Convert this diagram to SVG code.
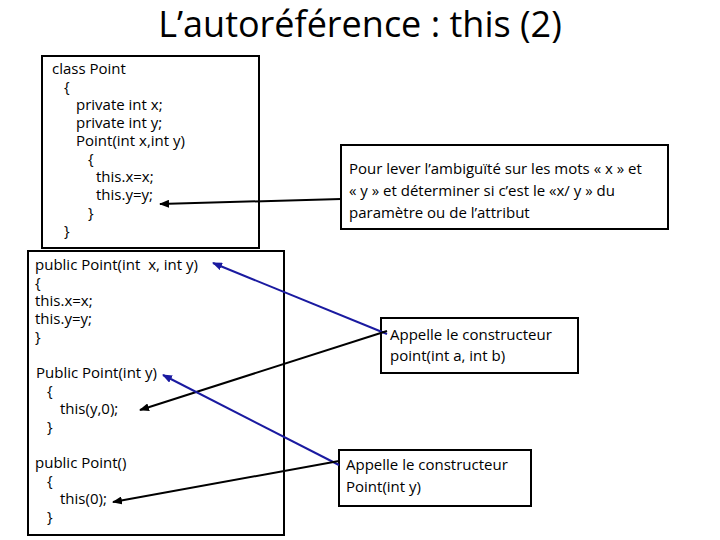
<svg xmlns="http://www.w3.org/2000/svg" width="720" height="540" viewBox="0 0 720 540">
<style>
text{font-family:"Open Sans","Liberation Sans",sans-serif;font-size:15px;fill:#000;white-space:pre}
.t{font-size:36px;font-family:"Open Sans","Liberation Sans",sans-serif}
rect{fill:#fff;stroke:#000;stroke-width:2}
.k{stroke:#000;stroke-width:2;fill:none;marker-end:url(#mk)}
.b{stroke:#1a1aa0;stroke-width:2;fill:none;marker-end:url(#mb)}
</style>
<defs>
<marker id="mk" markerWidth="10" markerHeight="8" refX="9" refY="4" orient="auto" markerUnits="userSpaceOnUse"><path d="M0,0L10,4L0,8z" fill="#000"/></marker>
<marker id="mb" markerWidth="10" markerHeight="8" refX="9" refY="4" orient="auto" markerUnits="userSpaceOnUse"><path d="M0,0L10,4L0,8z" fill="#1a1aa0"/></marker>
</defs>
<text class="t" x="360" y="37" text-anchor="middle">L’autoréférence : this (2)</text>
<g id="classbox"><rect x="42" y="56" width="217" height="192"/>
<text x="52" y="74">class Point</text><text x="64" y="92">{</text>
<text x="76" y="110">private int x;</text><text x="76" y="128">private int y;</text>
<text x="76" y="146">Point(int x,int y)</text><text x="88" y="164">{</text>
<text x="96" y="182">this.x=x;</text><text x="96" y="200">this.y=y;</text>
<text x="88" y="218">}</text><text x="64" y="236">}</text></g>
<g id="ctorbox"><rect x="28" y="251" width="256" height="284"/>
<text x="35" y="270">public Point(int  x, int y)</text><text x="35" y="288">{</text>
<text x="35" y="306">this.x=x;</text><text x="35" y="324">this.y=y;</text><text x="35" y="342">}</text>
<text x="36" y="378">Public Point(int y)</text><text x="47" y="396">{</text>
<text x="60" y="414">this(y,0);</text><text x="47" y="432">}</text>
<text x="35" y="468">public Point()</text><text x="47" y="486">{</text>
<text x="60" y="504">this(0);</text><text x="47" y="522">}</text></g>
<g id="noteA"><rect x="341" y="145" width="327" height="84"/>
<text x="349" y="174">Pour lever l’ambiguïté sur les mots « x » et</text>
<text x="349" y="196">« y » et déterminer si c’est le «x/ y » du</text>
<text x="349" y="218">paramètre ou de l’attribut</text></g>
<g id="noteB"><rect x="381" y="318" width="197" height="55"/>
<text x="390" y="340">Appelle le constructeur</text><text x="390" y="361">point(int a, int b)</text></g>
<g id="noteC"><rect x="339" y="450" width="192" height="56"/>
<text x="346" y="470">Appelle le constructeur</text><text x="346" y="492">Point(int y)</text></g>
<g id="connectors">
<path class="k" d="M341,199L160,204"/>
<path class="b" d="M387,334L213,263"/>
<path class="k" d="M387,331L140,410"/>
<path class="b" d="M339,465L163,375"/>
<path class="k" d="M339,461L113,502"/>
</g>
</svg>
